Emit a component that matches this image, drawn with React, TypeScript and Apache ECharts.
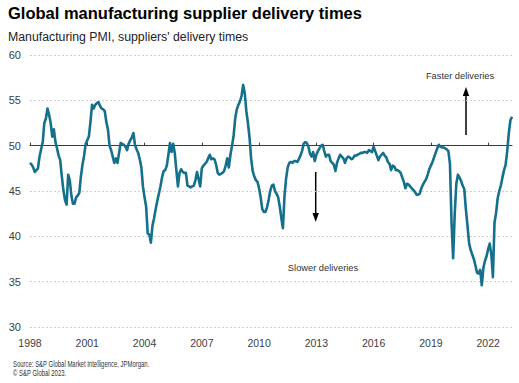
import React, { useEffect, useRef } from "react";
import * as echarts from "echarts";

const startYear = 1998;
// Manufacturing PMI, suppliers' delivery times (monthly, Jan 1998 - Apr 2023)
const y1998 = [48.1, 47.9, 47.6, 47.1, 47.3, 47.5, 48.8, 49.6, 50.4, 52.5, 53.0, 54.1];
const y1999 = [53.4, 52.5, 51.0, 51.8, 50.4, 49.7, 48.9, 48.4, 46.6, 45.1, 44.0, 43.5];
const y2000 = [46.8, 46.2, 44.5, 43.6, 43.6, 44.3, 44.5, 44.8, 46.6, 47.9, 48.9, 50.2];
const y2001 = [50.6, 51.0, 52.6, 54.5, 54.1, 54.5, 54.7, 54.8, 54.4, 54.1, 54.0, 53.8];
const y2002 = [52.6, 51.8, 50.0, 49.5, 48.8, 48.1, 48.6, 48.1, 49.2, 50.3, 50.2, 50.1];
const y2003 = [49.9, 49.5, 50.2, 50.6, 50.9, 51.4, 50.1, 49.6, 49.2, 48.5, 47.6, 45.5];
const y2004 = [44.3, 43.3, 40.3, 40.2, 39.3, 41.2, 42.0, 43.0, 43.9, 44.7, 45.5, 46.5];
const y2005 = [47.2, 47.3, 47.8, 49.0, 50.3, 49.3, 50.2, 49.2, 47.3, 45.5, 47.0, 47.4];
const y2006 = [47.1, 47.0, 47.0, 45.6, 45.5, 45.4, 45.5, 45.6, 46.2, 47.1, 46.3, 45.5];
const y2007 = [47.5, 47.8, 48.0, 48.2, 48.6, 49.0, 48.5, 48.6, 48.5, 47.9, 47.0, 46.8];
const y2008 = [46.9, 47.0, 47.2, 47.8, 48.6, 47.6, 49.0, 50.0, 51.1, 53.0, 54.0, 54.5];
const y2009 = [54.9, 55.5, 56.7, 55.8, 53.8, 52.5, 50.9, 48.6, 47.2, 46.6, 46.2, 46.0];
const y2010 = [45.3, 44.3, 43.0, 42.7, 42.7, 43.2, 44.0, 45.0, 45.6, 45.7, 45.0, 44.7];
const y2011 = [44.3, 43.3, 42.0, 40.9, 44.5, 46.4, 47.6, 48.1, 48.2, 48.1, 48.3, 48.3];
const y2012 = [48.2, 48.5, 48.9, 49.4, 50.2, 50.4, 50.3, 49.9, 49.1, 48.8, 49.3, 48.3];
const y2013 = [49.0, 49.4, 49.7, 50.0, 50.1, 49.4, 48.8, 49.0, 49.0, 48.3, 48.1, 47.9];
const y2014 = [47.2, 48.1, 48.6, 49.0, 48.8, 48.6, 48.1, 48.6, 48.8, 48.7, 48.5, 48.6];
const y2015 = [48.9, 48.9, 49.0, 49.1, 49.2, 49.2, 49.3, 49.3, 49.2, 49.5, 49.4, 49.3];
const y2016 = [49.9, 49.4, 48.9, 48.4, 48.8, 49.0, 49.2, 48.9, 48.7, 48.2, 48.0, 47.3];
const y2017 = [47.8, 47.7, 47.3, 47.3, 47.2, 47.0, 46.5, 46.0, 45.3, 45.8, 45.7, 45.5];
const y2018 = [45.3, 45.1, 44.9, 44.6, 44.6, 44.7, 45.3, 45.7, 46.0, 46.3, 46.8, 47.4];
const y2019 = [47.8, 48.2, 48.7, 49.2, 49.7, 50.1, 49.9, 49.8, 49.8, 49.7, 49.6, 49.4];
const y2020 = [48.0, 41.5, 37.6, 42.5, 45.8, 46.8, 46.5, 46.1, 45.6, 45.2, 43.0, 41.2];
const y2021 = [39.3, 38.5, 38.0, 37.5, 36.8, 36.0, 35.9, 36.3, 34.6, 36.5, 37.3, 37.8];
const y2022 = [38.6, 39.2, 38.0, 35.5, 41.5, 42.6, 44.2, 45.0, 45.6, 46.5, 47.3, 47.9];
const y2023 = [49.4, 51.4, 52.8, 53.2];

const deliveryTimes = [
  ...y1998, ...y1999, ...y2000, ...y2001, ...y2002, ...y2003, ...y2004,
  ...y2005, ...y2006, ...y2007, ...y2008, ...y2009, ...y2010, ...y2011,
  ...y2012, ...y2013, ...y2014, ...y2015, ...y2016, ...y2017, ...y2018,
  ...y2019, ...y2020, ...y2021, ...y2022, ...y2023,
];

const months = deliveryTimes.map((_, i) => {
  const yr = startYear + Math.floor(i / 12);
  const m = (i % 12) + 1;
  return `${yr}-${m < 10 ? "0" + m : m}`;
});

const yTicks = { min: 30, max: 60, interval: 5 };
const neutralLevel = 50;

const titleText = "Global manufacturing supplier delivery times";
const subtitleText = "Manufacturing PMI, suppliers' delivery times";
const sourceLines = ["Source: S&P Global Market Intelligence, JPMorgan.", "© S&P Global 2023."];

const FONT = "'Liberation Sans', Arial, sans-serif";

export default function App() {
  const ref = useRef<HTMLDivElement>(null);
  useEffect(() => {
    if (!ref.current) return;
    const chart = echarts.init(ref.current, null, { renderer: "svg" });
    const gridTop = 55;
    const gridBottom = 56;
    const gridH = 383 - gridTop - gridBottom;
    const offset50 = -gridH * (neutralLevel - yTicks.min) / (yTicks.max - yTicks.min);
    chart.setOption({
      animation: false,
      backgroundColor: "#ffffff",
      textStyle: { fontFamily: FONT },
      grid: { left: 30, right: 7, top: gridTop, bottom: gridBottom, containLabel: false },
      xAxis: [
        {
          type: "category",
          data: months,
          boundaryGap: false,
          axisLine: { show: false },
          axisTick: { show: false },
          splitLine: { show: false },
          axisLabel: {
            interval: 35,
            margin: 10,
            fontSize: 10.5,
            color: "#404040",
            fontFamily: FONT,
            formatter: (v: string) => v.slice(0, 4),
          },
        },
        {
          type: "category",
          data: months,
          boundaryGap: false,
          position: "bottom",
          offset: offset50,
          axisLine: { show: true, lineStyle: { color: "#3a3a3a", width: 1 } },
          axisTick: { show: true, inside: true, length: 3, interval: 35, lineStyle: { color: "#3a3a3a" } },
          axisLabel: { show: false },
          splitLine: { show: false },
        },
      ],
      yAxis: {
        type: "value",
        min: yTicks.min,
        max: yTicks.max,
        interval: yTicks.interval,
        axisLine: { show: false },
        axisTick: { show: false },
        axisLabel: { fontSize: 11, color: "#404040", margin: 9, fontFamily: FONT },
        splitLine: { show: true, lineStyle: { color: "#cfcfcf", type: [2, 2], width: 1 } },
      },
      series: [
        {
          type: "line",
          data: deliveryTimes,
          xAxisIndex: 0,
          showSymbol: false,
          symbol: "none",
          lineStyle: { color: "#15708c", width: 2.6, join: "round" },
          z: 5,
        },
      ],
      graphic: [
        {
          type: "text",
          left: 8,
          top: 4,
          style: { text: titleText, fontSize: 16.5, fontWeight: "bold", fill: "#000", fontFamily: FONT },
        },
        {
          type: "text",
          left: 8,
          top: 31,
          style: { text: subtitleText, fontSize: 12.3, fill: "#222", fontFamily: FONT },
        },
        {
          type: "text",
          x: 460,
          y: 76,
          style: { text: "Faster deliveries", fontSize: 9.3, fill: "#333", fontFamily: FONT, align: "center", verticalAlign: "middle" },
        },
        {
          type: "text",
          x: 323,
          y: 268,
          style: { text: "Slower deliveries", fontSize: 9.3, fill: "#333", fontFamily: FONT, align: "center", verticalAlign: "middle" },
        },
        {
          type: "line",
          shape: { x1: 466, y1: 135, x2: 466, y2: 95 },
          style: { stroke: "#000", lineWidth: 1.5 },
        },
        {
          type: "polygon",
          shape: { points: [[466, 87], [462.8, 96], [469.2, 96]] },
          style: { fill: "#000" },
        },
        {
          type: "line",
          shape: { x1: 315.7, y1: 172, x2: 315.7, y2: 214 },
          style: { stroke: "#000", lineWidth: 1.5 },
        },
        {
          type: "polygon",
          shape: { points: [[315.7, 222], [312.5, 213], [318.9, 213]] },
          style: { fill: "#000" },
        },
        {
          type: "text",
          x: 13,
          y: 364,
          scaleX: 0.7,
          style: { text: sourceLines[0], fontSize: 8.5, fill: "#333", fontFamily: FONT, verticalAlign: "middle" },
        },
        {
          type: "text",
          x: 13,
          y: 373,
          scaleX: 0.7,
          style: { text: sourceLines[1], fontSize: 8.5, fill: "#333", fontFamily: FONT, verticalAlign: "middle" },
        },
      ],
    });
    return () => chart.dispose();
  }, []);
  return <div ref={ref} style={{ width: 519, height: 383, position: "absolute", left: 0, top: 0 }} />;
}
